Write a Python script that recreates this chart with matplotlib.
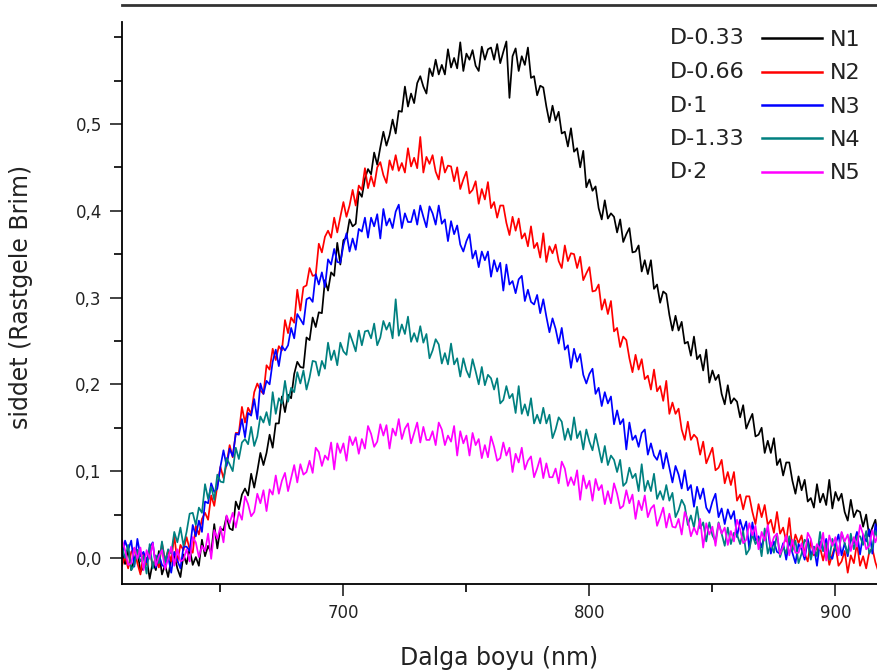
import numpy as np
import matplotlib.pyplot as plt
from matplotlib.ticker import MultipleLocator, FixedLocator, FuncFormatter

# wavelength grid (nm), one reading every 1.25 nm
wavelength = np.arange(610, 919, 1.25)

# intensities, one row = 5 nm
n1 = [0.008, -0.007, 0.010, -0.014,
      -0.002, 0.009, -0.016, -0.011,
      0.000, -0.024, -0.005, -0.014,
      0.008, -0.019, -0.008, -0.022,
      -0.001, 0.004, -0.012, -0.022,
      0.004, -0.007, 0.011, -0.008,
      0.001, -0.009, 0.021, 0.002,
      0.014, 0.006, 0.039, 0.011,
      0.034, 0.032, 0.048, 0.034,
      0.032, 0.065, 0.056, 0.073,
      0.080, 0.072, 0.097, 0.081,
      0.100, 0.121, 0.107, 0.121,
      0.142, 0.127, 0.155, 0.155,
      0.186, 0.168, 0.188, 0.184,
      0.212, 0.226, 0.220, 0.219,
      0.254, 0.251, 0.277, 0.266,
      0.283, 0.282, 0.320, 0.308,
      0.329, 0.325, 0.363, 0.338,
      0.366, 0.369, 0.390, 0.382,
      0.385, 0.422, 0.416, 0.437,
      0.448, 0.442, 0.467, 0.453,
      0.473, 0.491, 0.475, 0.487,
      0.505, 0.489, 0.515, 0.514,
      0.543, 0.520, 0.535, 0.524,
      0.547, 0.555, 0.543, 0.535,
      0.564, 0.555, 0.574, 0.557,
      0.568, 0.557, 0.586, 0.565,
      0.576, 0.564, 0.594, 0.561,
      0.581, 0.574, 0.585, 0.567,
      0.561, 0.589, 0.574, 0.586,
      0.588, 0.574, 0.592, 0.570,
      0.583, 0.595, 0.530, 0.578,
      0.587, 0.561, 0.578, 0.568,
      0.588, 0.553, 0.555, 0.533,
      0.544, 0.542, 0.520, 0.502,
      0.521, 0.504, 0.514, 0.489,
      0.491, 0.474, 0.495, 0.468,
      0.472, 0.450, 0.469, 0.427,
      0.436, 0.423, 0.428, 0.403,
      0.390, 0.412, 0.391, 0.397,
      0.393, 0.375, 0.390, 0.364,
      0.373, 0.380, 0.352, 0.353,
      0.360, 0.330, 0.343, 0.327,
      0.343, 0.310, 0.315, 0.294,
      0.307, 0.304, 0.280, 0.262,
      0.279, 0.262, 0.272, 0.247,
      0.249, 0.233, 0.255, 0.229,
      0.234, 0.216, 0.240, 0.202,
      0.216, 0.205, 0.211, 0.189,
      0.177, 0.199, 0.178, 0.184,
      0.180, 0.162, 0.176, 0.149,
      0.158, 0.166, 0.140, 0.142,
      0.150, 0.121, 0.135, 0.121,
      0.138, 0.107, 0.114, 0.095,
      0.110, 0.110, 0.089, 0.074,
      0.094, 0.078, 0.090, 0.065,
      0.069, 0.058, 0.085, 0.064,
      0.074, 0.061, 0.090, 0.057,
      0.076, 0.066, 0.074, 0.053,
      0.043, 0.067, 0.047, 0.055,
      0.053, 0.036, 0.050, 0.025,
      0.035, 0.044, 0.018, 0.021]

n2 = [-0.009, 0.002, -0.012, 0.007,
      0.011, -0.006, -0.019, 0.005,
      -0.008, 0.009, -0.010, 0.000,
      -0.011, 0.017, -0.003, 0.008,
      -0.004, 0.026, -0.005, 0.015,
      0.009, 0.024, 0.010, 0.006,
      0.037, 0.027, 0.045, 0.052,
      0.044, 0.072, 0.060, 0.083,
      0.105, 0.092, 0.108, 0.130,
      0.116, 0.144, 0.144, 0.174,
      0.156, 0.173, 0.166, 0.191,
      0.201, 0.193, 0.189, 0.222,
      0.217, 0.241, 0.228, 0.244,
      0.239, 0.274, 0.259, 0.277,
      0.271, 0.309, 0.285, 0.312,
      0.314, 0.334, 0.325, 0.326,
      0.362, 0.352, 0.370, 0.377,
      0.369, 0.392, 0.375, 0.393,
      0.410, 0.393, 0.406, 0.424,
      0.406, 0.429, 0.424, 0.449,
      0.426, 0.440, 0.428, 0.450,
      0.456, 0.441, 0.432, 0.458,
      0.447, 0.464, 0.446, 0.455,
      0.444, 0.472, 0.451, 0.461,
      0.449, 0.485, 0.444, 0.462,
      0.454, 0.464, 0.445, 0.436,
      0.462, 0.444, 0.452, 0.451,
      0.434, 0.450, 0.425, 0.436,
      0.445, 0.420, 0.424, 0.434,
      0.408, 0.425, 0.413, 0.433,
      0.403, 0.410, 0.392, 0.406,
      0.406, 0.386, 0.372, 0.393,
      0.377, 0.391, 0.368, 0.374,
      0.359, 0.382, 0.357, 0.363,
      0.346, 0.374, 0.341, 0.359,
      0.351, 0.361, 0.342, 0.334,
      0.360, 0.342, 0.351, 0.350,
      0.334, 0.347, 0.320, 0.328,
      0.335, 0.307, 0.308, 0.315,
      0.286, 0.298, 0.281, 0.296,
      0.261, 0.265, 0.243, 0.255,
      0.251, 0.230, 0.214, 0.234,
      0.217, 0.229, 0.206, 0.210,
      0.194, 0.217, 0.192, 0.198,
      0.181, 0.204, 0.166, 0.179,
      0.166, 0.172, 0.148, 0.136,
      0.157, 0.136, 0.142, 0.138,
      0.119, 0.134, 0.109, 0.118,
      0.127, 0.101, 0.104, 0.113,
      0.086, 0.099, 0.084, 0.099,
      0.066, 0.073, 0.056, 0.071,
      0.071, 0.053, 0.039, 0.062,
      0.047, 0.061, 0.038, 0.044,
      0.029, 0.053, 0.028, 0.035,
      0.019, 0.046, 0.010, 0.027,
      0.017, 0.026, 0.005, -0.004,
      0.020, 0.003, 0.013, 0.012,
      -0.003, 0.014, -0.008, 0.004,
      0.015, -0.009, -0.004, 0.008,
      -0.017, 0.003, -0.006, 0.017,
      -0.009, 0.002, -0.012, 0.007,
      0.011, -0.005, -0.016, 0.009]

n3 = [-0.001, 0.020, 0.009, 0.020,
      -0.010, 0.022, 0.002, 0.007,
      -0.005, 0.012, 0.018, -0.011,
      0.004, -0.008, -0.011, 0.002,
      -0.017, 0.007, -0.003, -0.012,
      0.013, 0.013, 0.008, 0.038,
      0.025, 0.043, 0.030, 0.065,
      0.063, 0.086, 0.076, 0.080,
      0.105, 0.124, 0.106, 0.126,
      0.117, 0.143, 0.142, 0.160,
      0.139, 0.167, 0.164, 0.183,
      0.160, 0.201, 0.189, 0.204,
      0.200, 0.226, 0.240, 0.221,
      0.244, 0.239, 0.245, 0.265,
      0.253, 0.281, 0.275, 0.269,
      0.298, 0.300, 0.295, 0.327,
      0.315, 0.329, 0.312, 0.344,
      0.338, 0.356, 0.341, 0.340,
      0.360, 0.374, 0.353, 0.368,
      0.355, 0.379, 0.376, 0.392,
      0.369, 0.392, 0.382, 0.396,
      0.368, 0.402, 0.383, 0.391,
      0.380, 0.399, 0.407, 0.380,
      0.397, 0.387, 0.387, 0.401,
      0.384, 0.406, 0.393, 0.381,
      0.405, 0.397, 0.384, 0.406,
      0.385, 0.390, 0.365, 0.388,
      0.373, 0.383, 0.361, 0.353,
      0.365, 0.373, 0.345, 0.354,
      0.335, 0.353, 0.343, 0.353,
      0.324, 0.343, 0.330, 0.340,
      0.308, 0.338, 0.315, 0.319,
      0.305, 0.321, 0.325, 0.296,
      0.309, 0.295, 0.292, 0.303,
      0.282, 0.298, 0.278, 0.260,
      0.276, 0.264, 0.247, 0.265,
      0.240, 0.245, 0.219, 0.241,
      0.226, 0.235, 0.211, 0.201,
      0.212, 0.218, 0.189, 0.196,
      0.175, 0.191, 0.178, 0.186,
      0.154, 0.170, 0.154, 0.160,
      0.125, 0.156, 0.136, 0.141,
      0.128, 0.144, 0.148, 0.119,
      0.132, 0.118, 0.113, 0.124,
      0.103, 0.121, 0.104, 0.087,
      0.106, 0.096, 0.080, 0.101,
      0.078, 0.084, 0.059, 0.082,
      0.068, 0.080, 0.058, 0.052,
      0.065, 0.074, 0.047, 0.057,
      0.039, 0.056, 0.045, 0.054,
      0.024, 0.044, 0.031, 0.042,
      0.010, 0.041, 0.020, 0.025,
      0.012, 0.028, 0.034, 0.005,
      0.019, 0.007, 0.005, 0.017,
      -0.002, 0.020, 0.006, -0.006,
      0.016, 0.010, -0.002, 0.022,
      0.003, 0.013, -0.009, 0.019,
      0.008, 0.022, 0.003, -0.001,
      0.015, 0.027, 0.003, 0.017,
      0.002, 0.023, 0.017, 0.030,
      0.004, 0.027, 0.019, 0.033,
      0.005, 0.039, 0.021, 0.029]

n4 = [0.012, 0.000, 0.015, -0.014,
      -0.008, 0.009, -0.004, 0.002,
      -0.018, 0.016, -0.012, 0.003,
      -0.006, 0.019, -0.005, 0.010,
      0.005, 0.030, 0.018, 0.035,
      0.014, 0.030, 0.051, 0.052,
      0.038, 0.058, 0.052, 0.085,
      0.068, 0.082, 0.067, 0.096,
      0.088, 0.087, 0.115, 0.108,
      0.100, 0.127, 0.114, 0.133,
      0.137, 0.131, 0.151, 0.129,
      0.140, 0.163, 0.156, 0.168,
      0.153, 0.191, 0.166, 0.184,
      0.178, 0.204, 0.180, 0.196,
      0.191, 0.214, 0.201, 0.216,
      0.194, 0.208, 0.227, 0.226,
      0.210, 0.227, 0.218, 0.248,
      0.228, 0.239, 0.222, 0.248,
      0.238, 0.234, 0.259, 0.249,
      0.238, 0.262, 0.245, 0.261,
      0.262, 0.253, 0.270, 0.245,
      0.254, 0.273, 0.263, 0.271,
      0.253, 0.298, 0.256, 0.269,
      0.258, 0.278, 0.249, 0.259,
      0.249, 0.267, 0.248, 0.258,
      0.230, 0.239, 0.252, 0.246,
      0.224, 0.236, 0.223, 0.247,
      0.223, 0.230, 0.209, 0.230,
      0.216, 0.208, 0.229, 0.215,
      0.200, 0.220, 0.199, 0.211,
      0.207, 0.194, 0.207, 0.178,
      0.182, 0.198, 0.184, 0.189,
      0.167, 0.198, 0.166, 0.177,
      0.164, 0.184, 0.155, 0.165,
      0.155, 0.173, 0.155, 0.165,
      0.138, 0.148, 0.162, 0.157,
      0.136, 0.149, 0.136, 0.162,
      0.138, 0.146, 0.125, 0.148,
      0.134, 0.124, 0.143, 0.127,
      0.110, 0.129, 0.107, 0.118,
      0.113, 0.099, 0.113, 0.083,
      0.087, 0.104, 0.092, 0.097,
      0.077, 0.108, 0.077, 0.089,
      0.077, 0.097, 0.068, 0.077,
      0.067, 0.084, 0.066, 0.075,
      0.047, 0.055, 0.067, 0.060,
      0.038, 0.049, 0.035, 0.059,
      0.034, 0.041, 0.019, 0.041,
      0.026, 0.019, 0.041, 0.028,
      0.014, 0.035, 0.016, 0.029,
      0.027, 0.016, 0.031, 0.004,
      0.010, 0.027, 0.016, 0.022,
      0.002, 0.034, 0.005, 0.017,
      0.006, 0.028, 0.001, 0.013,
      0.005, 0.025, 0.008, 0.020,
      -0.006, 0.005, 0.021, 0.017,
      -0.002, 0.013, 0.002, 0.030,
      0.008, 0.017, -0.002, 0.022,
      0.010, 0.005, 0.029, 0.017,
      0.005, 0.028, 0.010, 0.025,
      0.025, 0.015, 0.031, 0.005,
      0.012, 0.031, 0.020, 0.028]

n5 = [0.021, 0.009, -0.008, -0.006,
      0.012, -0.001, 0.012, -0.014,
      0.009, -0.001, 0.017, -0.009,
      0.002, 0.009, -0.013, -0.001,
      0.013, -0.009, 0.010, -0.004,
      -0.002, 0.010, -0.004, 0.024,
      0.018, 0.001, 0.014, 0.008,
      0.028, -0.001, 0.032, 0.022,
      0.036, 0.018, 0.049, 0.040,
      0.052, 0.035, 0.053, 0.044,
      0.071, 0.062, 0.048, 0.053,
      0.074, 0.063, 0.078, 0.054,
      0.079, 0.073, 0.095, 0.074,
      0.089, 0.098, 0.077, 0.092,
      0.107, 0.087, 0.108, 0.096,
      0.099, 0.112, 0.098, 0.127,
      0.122, 0.106, 0.118, 0.113,
      0.133, 0.102, 0.132, 0.121,
      0.132, 0.112, 0.140, 0.130,
      0.139, 0.120, 0.137, 0.126,
      0.152, 0.143, 0.128, 0.134,
      0.154, 0.141, 0.153, 0.126,
      0.149, 0.141, 0.160, 0.137,
      0.149, 0.155, 0.132, 0.144,
      0.156, 0.133, 0.151, 0.136,
      0.136, 0.146, 0.130, 0.156,
      0.148, 0.130, 0.141, 0.134,
      0.152, 0.118, 0.146, 0.132,
      0.141, 0.118, 0.144, 0.130,
      0.137, 0.115, 0.130, 0.116,
      0.140, 0.128, 0.112, 0.115,
      0.133, 0.118, 0.127, 0.099,
      0.120, 0.110, 0.127, 0.102,
      0.112, 0.117, 0.093, 0.103,
      0.115, 0.092, 0.109, 0.093,
      0.093, 0.103, 0.086, 0.111,
      0.103, 0.083, 0.093, 0.084,
      0.101, 0.067, 0.095, 0.080,
      0.089, 0.066, 0.091, 0.078,
      0.084, 0.062, 0.077, 0.063,
      0.086, 0.074, 0.057, 0.060,
      0.078, 0.063, 0.073, 0.045,
      0.066, 0.055, 0.072, 0.047,
      0.057, 0.061, 0.037, 0.047,
      0.058, 0.035, 0.051, 0.036,
      0.035, 0.045, 0.027, 0.053,
      0.044, 0.025, 0.035, 0.027,
      0.045, 0.012, 0.040, 0.027,
      0.036, 0.014, 0.040, 0.028,
      0.035, 0.015, 0.031, 0.019,
      0.044, 0.033, 0.017, 0.021,
      0.040, 0.026, 0.037, 0.010,
      0.030, 0.020, 0.038, 0.013,
      0.024, 0.028, 0.004, 0.014,
      0.026, 0.003, 0.021, 0.006,
      0.006, 0.017, 0.002, 0.029,
      0.022, 0.005, 0.016, 0.010,
      0.029, -0.003, 0.026, 0.014,
      0.024, 0.003, 0.030, 0.019,
      0.027, 0.008, 0.024, 0.013,
      0.038, 0.027, 0.010, 0.014,
      0.032, 0.018, 0.029, 0.002]

series = [n1, n2, n3, n4, n5]
names = ["N1", "N2", "N3", "N4", "N5"]
samples = ["D-0.33", "D-0.66", "D\u00b71", "D-1.33", "D\u00b72"]
colors = ["black", "red", "blue", "#008080", "#ff00ff"]

W, H = 877, 672
fig = plt.figure(figsize=(W / 100, H / 100), dpi=100)
ax = fig.add_axes([122 / W, 1 - 584 / H, 1 - 122 / W, (584 - 5) / H])

for vals, name, c in zip(series, names, colors):
    ax.plot(wavelength, vals, color=c, lw=1.25, label=name)

ax.set_xlim(610, 916.9)
ax.set_ylim(-0.030, 0.637)

ax.spines['right'].set_visible(False)
ax.spines['top'].set_color('#333333')
ax.spines['top'].set_linewidth(2)
ax.spines['left'].set_linewidth(1.3)
ax.spines['bottom'].set_linewidth(1.3)
ax.spines['left'].set_bounds(-0.030, 0.617)

ax.xaxis.set_major_locator(MultipleLocator(100))
ax.xaxis.set_minor_locator(MultipleLocator(50))
ax.yaxis.set_major_locator(FixedLocator([0.0, 0.1, 0.2, 0.3, 0.4, 0.5]))
ax.yaxis.set_minor_locator(FixedLocator([0.05, 0.15, 0.25, 0.35, 0.45, 0.55, 0.6]))
ax.yaxis.set_major_formatter(FuncFormatter(lambda v, p: f"{v:.1f}".replace('.', ',')))
ax.tick_params(which='major', length=8.5, width=1.2, labelsize=12, pad=6, colors='#222222')
ax.tick_params(which='minor', length=5.5, width=1.2)
ax.tick_params(top=False, right=False)

ax.set_xlabel("Dalga boyu (nm)", fontsize=17, color='#222222')
ax.set_ylabel("siddet (Rastgele Brim)", fontsize=17, color='#222222')
ax.xaxis.set_label_coords(0.5, -0.107)
ax.yaxis.set_label_coords(-0.118, 0.495)

leg = ax.legend(loc='upper left', bbox_to_anchor=(762 / W, 1 - 30 / H),
                bbox_transform=fig.transFigure, frameon=False, fontsize=16,
                handlelength=2.7, handletextpad=0.36, labelspacing=0.6,
                borderpad=0, borderaxespad=0)
for t in leg.get_texts():
    t.set_color('#222222')
for line in leg.get_lines():
    line.set_linewidth(1.8)
for i, s in enumerate(samples):
    fig.text(670 / W, 1 - (38.5 + 33.5 * i) / H, s, fontsize=16,
             va='center', ha='left', color='#222222')

fig.savefig("out.png", dpi=100)
